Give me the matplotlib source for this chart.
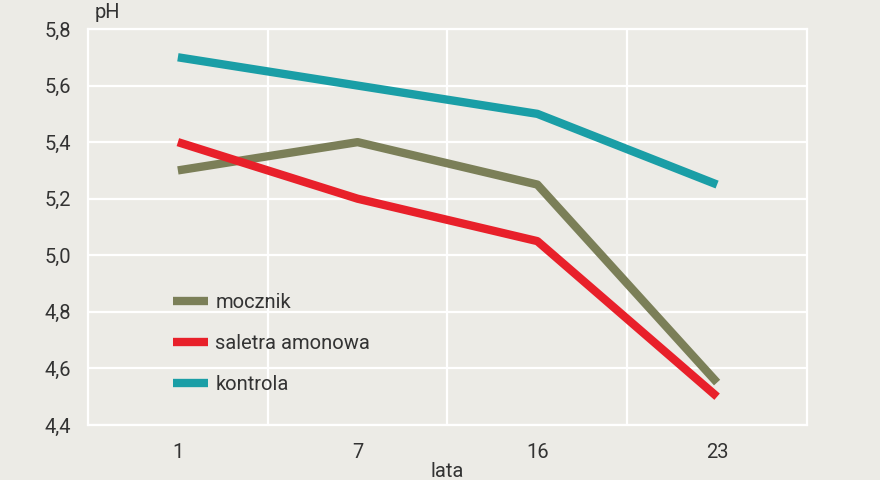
import matplotlib
matplotlib.use("Agg")
import matplotlib.pyplot as plt
from matplotlib.ticker import FixedLocator

# data
lata = ["1", "7", "16", "23"]
mocznik = [5.30, 5.40, 5.25, 4.55]
saletra = [5.40, 5.20, 5.05, 4.50]
kontrola = [5.70, 5.60, 5.50, 5.25]
y_ticks = [4.4, 4.6, 4.8, 5.0, 5.2, 5.4, 5.6, 5.8]

bg = "#ecebe6"
txt = "#333333"
plt.rcParams['font.family'] = ['Roboto', 'DejaVu Sans']

fig = plt.figure(figsize=(8.8, 4.8), dpi=100, facecolor=bg)
ax = fig.add_axes([0.1, 0.1146, 0.817, 0.825], facecolor=bg)

x = list(range(len(lata)))
ax.plot(x, mocznik, color="#7b7f58", lw=6, solid_capstyle="butt", label="mocznik", zorder=3)
ax.plot(x, saletra, color="#e8202a", lw=6, solid_capstyle="butt", label="saletra amonowa", zorder=3)
ax.plot(x, kontrola, color="#1a9ea6", lw=6, solid_capstyle="butt", label="kontrola", zorder=3)

ax.set_xlim(-0.5, 3.5)
ax.set_ylim(4.4, 5.8)
ax.set_xticks(x)
ax.set_xticklabels(lata)
ax.xaxis.set_minor_locator(FixedLocator([0.5, 1.5, 2.5]))
ax.set_yticks(y_ticks)
ax.set_yticklabels([("%.1f" % v).replace(".", ",") for v in y_ticks])

fs = 14.5
ax.tick_params(axis="both", which="both", length=0, colors=txt, labelsize=fs)
ax.tick_params(axis="x", pad=13)
ax.tick_params(axis="y", pad=12)
ax.grid(True, axis="y", which="major", color="white", lw=1.6)
ax.grid(True, axis="x", which="minor", color="white", lw=1.6)
ax.set_axisbelow(True)
for s in ax.spines.values():
    s.set_color("white")
    s.set_linewidth(1.6)

ax.set_xlabel("lata", fontsize=fs, color=txt, labelpad=0)
fig.text(0.107, 0.955, "pH", fontsize=fs, color=txt, ha="left", va="bottom")

leg = ax.legend(loc="upper left", bbox_to_anchor=(0.118, 0.333), frameon=False,
                fontsize=fs, handlelength=1.75, handletextpad=0.35,
                labelspacing=1.08, borderpad=0, borderaxespad=0)
for t in leg.get_texts():
    t.set_color(txt)

fig.savefig("out.png", dpi=100, facecolor=bg)
